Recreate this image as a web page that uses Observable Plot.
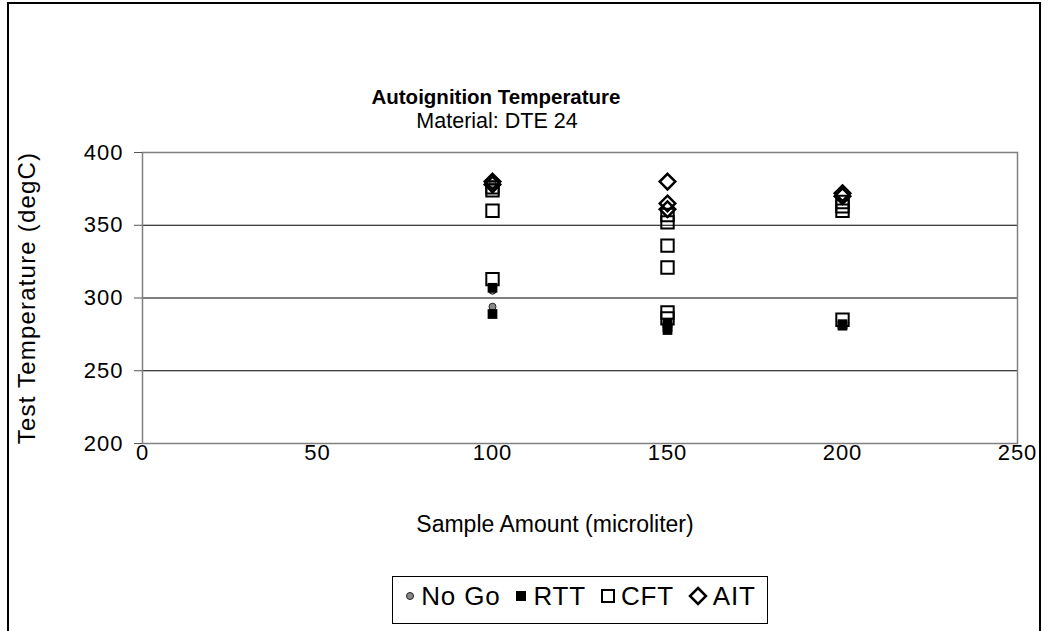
<!DOCTYPE html>
<html>
<head>
<meta charset="utf-8">
<script src="https://cdn.jsdelivr.net/npm/d3@7"></script>
<script src="https://cdn.jsdelivr.net/npm/@observablehq/plot@0.6"></script>
<style>
  html, body { margin: 0; padding: 0; background: #fff; }
  #wrap { position: relative; width: 1049px; height: 631px; overflow: hidden; font-family: "Liberation Sans", Arial, sans-serif; }
  #frame { position: absolute; left: 7px; top: 2px; width: 1034px; height: 660px; border: 2px solid #000; box-sizing: border-box; }
  #title { position: absolute; left: 0; width: 992px; top: 85px; text-align: center; font-weight: bold; font-size: 20.5px; color: #000; }
  #subtitle { position: absolute; left: 0; width: 994px; top: 109px; text-align: center; font-size: 21.5px; color: #000; }
  #xlabel { position: absolute; left: 0; width: 1110px; top: 511px; text-align: center; font-size: 23px; color: #000; }
  #chart { position: absolute; left: 0; top: 0; }
  #legend { position: absolute; left: 392px; top: 576px; width: 376px; height: 48px; border: 1.5px solid #000; box-sizing: border-box; display: flex; align-items: center; justify-content: center; font-size: 26px; padding-bottom: 8px; color: #000; letter-spacing: 0.8px; }
  #legend span.item { display: inline-flex; align-items: center; margin: 0 7px; }
  #legend svg { margin-right: 5px; }
  #chart [aria-label="y-axis tick label"] text, #chart [aria-label="x-axis tick label"] text { letter-spacing: 1px; }
  #chart [aria-label="y-axis label"] { font-size: 24px; letter-spacing: 1.2px; }
</style>
</head>
<body>
<div id="wrap">
  <div id="frame"></div>
  <div id="chart"></div>
  <div id="title">Autoignition Temperature</div>
  <div id="subtitle">Material: DTE 24</div>
  <div id="xlabel">Sample Amount (microliter)</div>
  <div id="legend"></div>
</div>
<script>
// Data
const seriesNames = ["No Go", "RTT", "CFT", "AIT"];

const noGoX = [100, 100, 100, 150, 200];
const noGoY = [378, 305, 294, 283, 282];

const rttX = [100, 100, 150, 150, 150, 200, 200];
const rttY = [307, 289, 283, 280, 278, 282, 281];

const cftX = [100, 100, 100, 100, 150, 150, 150, 150, 150, 150, 200, 200, 200, 200];
const cftY = [376, 374, 360, 313, 357, 352, 336, 321, 290, 286, 366, 363, 360, 285];

const aitX = [100, 100, 150, 150, 150, 200, 200];
const aitY = [380, 378, 380, 365, 361, 372, 370];

const xTicks = [0, 50, 100, 150, 200, 250];
const yTicks = [200, 250, 300, 350, 400];
const gridValues = [250, 300, 350];

const toRows = (xs, ys) => xs.map((x, i) => ({x, y: ys[i]}));
const noGo = toRows(noGoX, noGoY);
const rtt = toRows(rttX, rttY);
const cft = toRows(cftX, cftY);
const ait = toRows(aitX, aitY);

const chart = Plot.plot({
  width: 1049,
  height: 631,
  marginLeft: 142,
  marginRight: 32,
  marginTop: 152,
  marginBottom: 188,
  style: { fontFamily: "'Liberation Sans', Arial, sans-serif", fontSize: "22px", color: "#000", background: "transparent" },
  x: { domain: [0, 250], ticks: xTicks },
  y: { domain: [200, 400], ticks: yTicks },
  marks: [
    Plot.gridY(gridValues, { stroke: "#000", strokeOpacity: 1, strokeWidth: 1.2 }),
    Plot.frame({ stroke: "#808080", strokeWidth: 1.5 }),
    Plot.axisY({ ticks: yTicks, tickSize: 8, tickPadding: 11, stroke: "#555", label: "Test Temperature (degC)", labelAnchor: "center", labelArrow: "none", labelOffset: 125, fontSize: 22 }),
    Plot.axisX({ ticks: xTicks, tickSize: 0, tickPadding: 1, stroke: "#555", label: null, fontSize: 22 }),
    Plot.dot(noGo, { x: "x", y: "y", r: 3.5, fill: "#888", stroke: "#222", strokeWidth: 1 }),
    Plot.dot(rtt, { x: "x", y: "y", symbol: "square", r: 5.5, fill: "#000", stroke: "none" }),
    Plot.dot(cft, { x: "x", y: "y", symbol: "square", r: 7, fill: "none", stroke: "#000", strokeWidth: 2 }),
    Plot.dot(ait, { x: "x", y: "y", symbol: "diamond2", r: 7, fill: "none", stroke: "#000", strokeWidth: 2.5 })
  ]
});
document.getElementById("chart").appendChild(chart);

// Legend
const legendSymbols = [
  `<svg width="12" height="12"><circle cx="6" cy="6" r="3.5" fill="#888" stroke="#222" stroke-width="1"/></svg>`,
  `<svg width="14" height="14"><rect x="2" y="2" width="10" height="10" fill="#000"/></svg>`,
  `<svg width="16" height="16"><rect x="2" y="2" width="12" height="12" fill="none" stroke="#000" stroke-width="2"/></svg>`,
  `<svg width="20" height="20"><path d="M10 2 L18 10 L10 18 L2 10 Z" fill="none" stroke="#000" stroke-width="2.5"/></svg>`
];
const legend = document.getElementById("legend");
seriesNames.forEach((name, i) => {
  const s = document.createElement("span");
  s.className = "item";
  s.innerHTML = legendSymbols[i] + name;
  legend.appendChild(s);
});
</script>
</body>
</html>
